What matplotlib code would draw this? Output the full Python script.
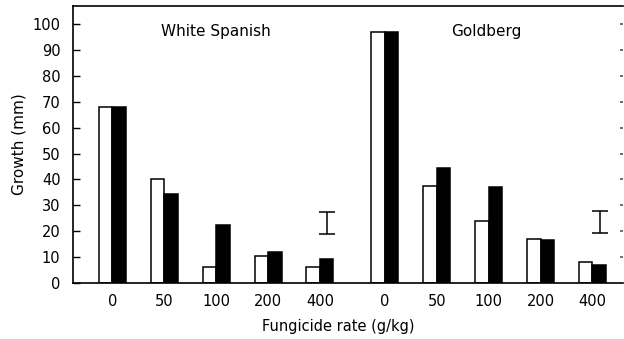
import matplotlib
matplotlib.use("Agg")
import matplotlib.pyplot as plt
import numpy as np

# Growth (mm) at each fungicide rate, two cultivars, two treatments
rates = ["0", "50", "100", "200", "400"]
cultivars = ["White Spanish", "Goldberg"]
open_bars = [68, 40, 6, 10.5, 6,
             97, 37.5, 24, 17, 8.3]
filled_bars = [68, 34.5, 22.5, 11.8, 9.3,
               97, 44.5, 37.2, 16.5, 7]
# LSD bar for each cultivar (centre, half-length)
lsd_centre = [23.2, 23.5]
lsd_half = [4.3, 4.2]

plt.rcParams["font.family"] = ["DejaVu Sans"]

fig = plt.figure(figsize=(6.24, 3.39), dpi=100)
ax = fig.add_axes([73 / 624, 1 - 283 / 339, 550 / 624, 277 / 339])

n = len(rates)
gap = 0.25
pos = np.concatenate([np.arange(n), np.arange(n) + n + gap])
w = 0.26

ax.bar(pos - w / 2, open_bars, width=w, color="white", edgecolor="black",
       linewidth=1.1)
ax.bar(pos + w / 2, filled_bars, width=w, color="black", edgecolor="black",
       linewidth=1.1)

# LSD bars
lsd_x = [n - 1 + 0.14, 2 * n - 1 + gap + 0.14]
ax.errorbar(lsd_x, lsd_centre, yerr=lsd_half, fmt="none", ecolor="black",
            elinewidth=1.1, capsize=6, capthick=1.1)

ax.set_xlim(-0.76, 9.84)
ax.set_ylim(0, 107)
ax.set_xticks(pos)
ax.set_xticklabels(rates * 2, fontsize=10.5)
ax.set_yticks(np.arange(0, 101, 10))
ax.tick_params(axis="y", which="major", direction="in", length=5, width=1,
               labelsize=10.5, pad=9, right=False)
ax.tick_params(axis="x", length=0, pad=8)

# faint ticks on the right edge
ax2 = ax.twinx()
ax2.set_ylim(ax.get_ylim())
ax2.set_yticks(np.arange(10, 101, 10))
ax2.tick_params(axis="y", direction="in", length=2, width=1.2, color="#555555",
                labelright=False)
for s in ax2.spines.values():
    s.set_visible(False)

for side in ["left", "top", "bottom"]:
    ax.spines[side].set_linewidth(1.2)
ax.spines["right"].set_visible(False)

ax.set_ylabel("Growth (mm)", fontsize=11, labelpad=4)
fig.text(338 / 624, 1 - 327 / 339, "Fungicide rate (g/kg)", fontsize=10.5,
         ha="center", va="center")

ax.text(2.0, 97, cultivars[0], fontsize=11, ha="center", va="center")
ax.text(7.2, 97, cultivars[1], fontsize=11, ha="center", va="center")

fig.savefig("out.png", dpi=100)
